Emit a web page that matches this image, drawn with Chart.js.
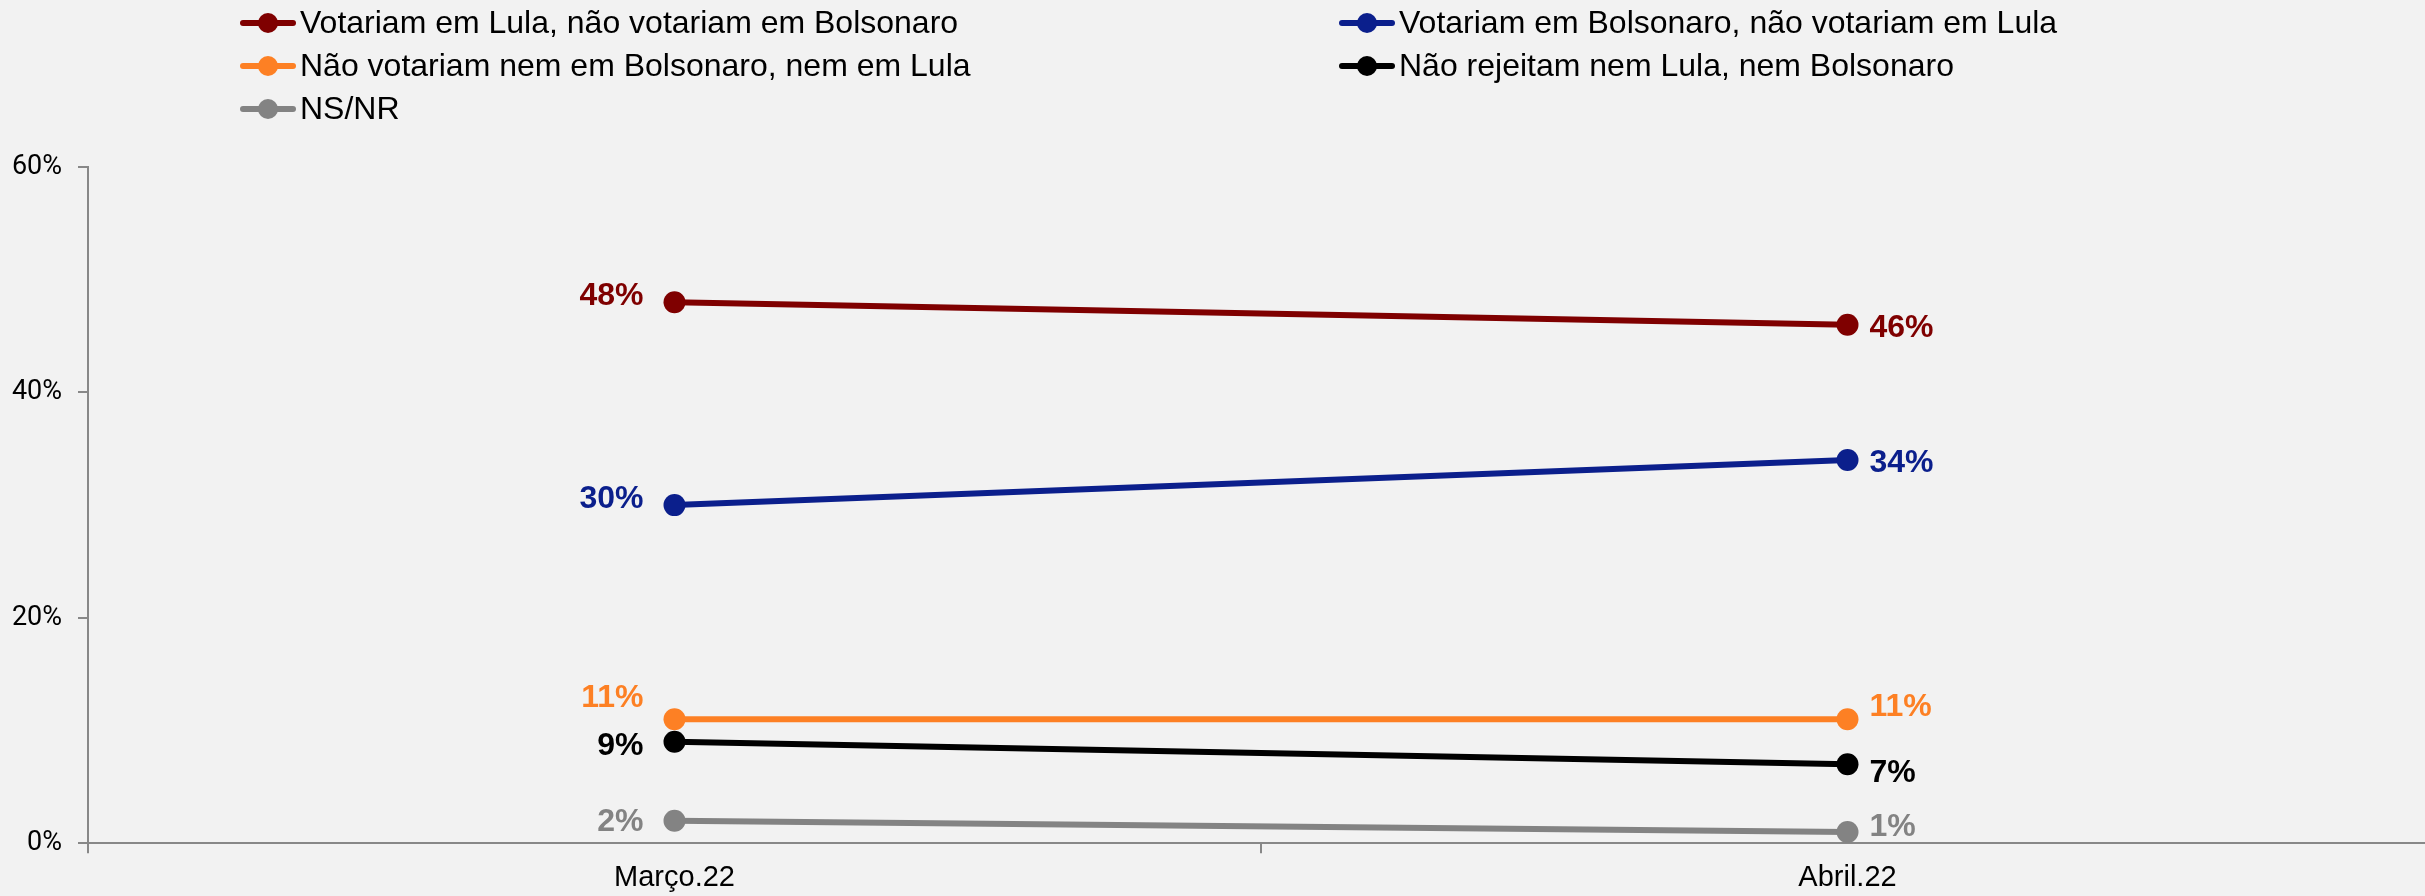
<!DOCTYPE html>
<html>
<head>
<meta charset="utf-8">
<script src="https://cdn.jsdelivr.net/npm/chart.js@4.4.1/dist/chart.umd.min.js"></script>
<style>
  html, body { margin: 0; padding: 0; background: #f2f2f2; overflow: hidden; }
  #wrap { position: relative; width: 2425px; height: 896px; overflow: hidden; }
  #grafico { position: absolute; left: 0; top: 0; }
  #legend {
    position: absolute; left: 240px; top: 1px;
    display: grid; grid-template-columns: 1099px auto;
    font: 32px "Liberation Sans", Arial, sans-serif; color: #000;
  }
  .item { display: flex; align-items: center; height: 43px; white-space: nowrap; }
  .mark { position: relative; width: 56px; height: 20px; margin-right: 4px; }
  .mark .ln { position: absolute; left: 0; right: 0; top: 7px; height: 6px; border-radius: 3px; }
  .mark .dot { position: absolute; left: 18px; top: 0; width: 20px; height: 20px; border-radius: 50%; }
</style>
</head>
<body>
<div id="wrap">
  <canvas id="grafico" width="2445" height="902"></canvas>
  <div id="legend"></div>
</div>
<script>
const categorias = ["Março.22", "Abril.22"];
const series = [
  "Votariam em Lula, não votariam em Bolsonaro",
  "Votariam em Bolsonaro, não votariam em Lula",
  "Não votariam nem em Bolsonaro, nem em Lula",
  "Não rejeitam nem Lula, nem Bolsonaro",
  "NS/NR",
];
const lula = [48, 46];
const bolsonaro = [30, 34];
const nenhum = [11, 11];
const naoRejeitam = [9, 7];
const nsnr = [2, 1];
const ticksY = [0, 20, 40, 60];

const cores = ["#7f0000", "#0b1f8c", "#fd8024", "#000000", "#838383"];
// small vertical nudges for the value labels (Março, Abril)
const nudges = [[-6, 3], [-6, 3], [-21, -12], [4, 9], [2, -5]];

const valores = [lula, bolsonaro, nenhum, naoRejeitam, nsnr];

const rotulos = {
  id: "rotulos",
  afterDatasetsDraw(chart) {
    const c = chart.ctx;
    c.save();
    c.font = "bold 32px 'Liberation Sans', Arial, sans-serif";
    c.textBaseline = "middle";
    chart.data.datasets.forEach((ds, i) => {
      const meta = chart.getDatasetMeta(i);
      meta.data.forEach((pt, j) => {
        c.fillStyle = ds.borderColor;
        const txt = ds.data[j] + "%";
        if (j === 0) {
          c.textAlign = "right";
          c.fillText(txt, pt.x - 31, pt.y + nudges[i][j]);
        } else {
          c.textAlign = "left";
          c.fillText(txt, pt.x + 22, pt.y + nudges[i][j]);
        }
      });
    });
    c.restore();
  },
};

const ctx = document.getElementById("grafico");
new Chart(ctx, {
  type: "line",
  data: {
    labels: categorias,
    datasets: series.map((nome, i) => ({
      label: nome,
      data: valores[i],
      borderColor: cores[i],
      backgroundColor: cores[i],
      borderWidth: 6,
      pointRadius: 11,
      pointHoverRadius: 11,
      pointBorderWidth: 0,
      tension: 0,
    })),
  },
  options: {
    responsive: false,
    animation: false,
    layout: {
      padding: { top: 167, left: 0, right: 0, bottom: 0 },
    },
    plugins: {
      legend: { display: false },
      tooltip: { enabled: false },
    },
    scales: {
      x: {
        offset: true,
        grid: {
          offset: true,
          drawOnChartArea: false,
          tickLength: 10,
          color: "#888888",
          lineWidth: 2,
        },
        border: { color: "#888888", width: 2 },
        ticks: {
          color: "#000",
          padding: 7,
          font: { family: "'Liberation Sans', Arial, sans-serif", size: 29 },
        },
      },
      y: {
        min: 0,
        max: 60,
        afterBuildTicks: (axis) => {
          axis.ticks = ticksY.map((v) => ({ value: v }));
        },
        afterFit: (axis) => {
          axis.width = 88;
        },
        grid: {
          drawOnChartArea: false,
          tickLength: 10,
          color: "#888888",
          lineWidth: 2,
        },
        border: { color: "#888888", width: 2 },
        ticks: {
          color: "#000",
          padding: 16,
          font: { family: "Roboto, sans-serif", size: 27 },
          callback: (v) => v + "%",
        },
      },
    },
  },
  plugins: [rotulos],
});

// legend in two columns, built from the same series
const leg = document.getElementById("legend");
series.forEach((nome, i) => {
  const it = document.createElement("div");
  it.className = "item";
  it.innerHTML =
    '<span class="mark"><span class="ln" style="background:' + cores[i] +
    '"></span><span class="dot" style="background:' + cores[i] +
    '"></span></span><span>' + nome + "</span>";
  leg.appendChild(it);
});
</script>
</body>
</html>
